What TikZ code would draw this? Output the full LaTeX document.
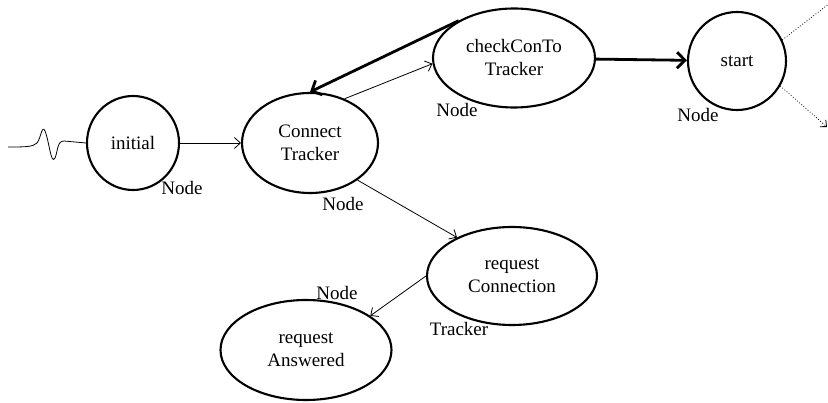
\documentclass[tikz,border=0pt]{standalone}
\usepackage{fontspec}
\setmainfont{Liberation Serif}
\usetikzlibrary{shapes.geometric}
\usetikzlibrary{arrows.meta}
\tikzset{
	state/.style = {ellipse, draw=black, line width=2.1pt, align=center,
		inner sep=0pt, font=\fontsize{19}{23}\selectfont},% etat
	tag/.style = {inner sep=0pt, font=\fontsize{19}{23}\selectfont},% etiquette
	thin_arr/.style = {-{Straight Barb[length=6pt,width=11pt]}, line width=0.8pt},
	thick_arr/.style = {-{Straight Barb[length=8pt,width=16pt]}, line width=2.8pt},
	dot_arr/.style = {dotted, line width=0.8pt}
}
\begin{document}
\begin{tikzpicture}[x=1pt,y=-1pt]
	\useasboundingbox (0,0) rectangle (828,403);
	% etats
	\node [state, minimum width=92pt, minimum height=94pt] (initial) at (133,143) {initial};
	\node [state, minimum width=136pt, minimum height=100pt] (connect) at (310,143) {Connect\\Tracker};
	\node [state, minimum width=162pt, minimum height=99pt] (check) at (514,58) {checkConTo\\Tracker};
	\node [state, minimum width=98pt, minimum height=98pt] (start) at (737,61) {start};
	\node [state, minimum width=170pt, minimum height=98pt] (reqcon) at (512,276) {request\\Connection};
	\node [state, minimum width=171pt, minimum height=100pt] (reqans) at (306,350) {request\\Answered};
	% etiquettes
	\node [tag] (n1) at (182,188) {Node};
	\node [tag] (n2) at (343,204) {Node};
	\node [tag] (n3) at (457,110) {Node};
	\node [tag] (n4) at (698,115) {Node};
	\node [tag] (n5) at (337,293) {Node};
	\node [tag] (t1) at (459,329) {Tracker};
	% entree
	\coordinate (in) at (8,147);
	\draw [line width=0.8pt] (in) .. controls (25,147) and (33,147) .. (37,143)
		.. controls (41,138) and (42,124) .. (45,131)
		.. controls (49,140) and (51,166) .. (55,158)
		.. controls (58,151) and (57,141) .. (64,141) -- (initial.west);
	% transitions
	\draw [thin_arr] (initial) -- (connect);
	\draw [thin_arr] (connect.52) -- (check.184);
	\draw [thick_arr] (check.146) -- (connect.90);
	\draw [thick_arr] (check) -- (start);
	\draw [thin_arr] (connect.-38) -- (reqcon.145);
	\draw [thin_arr] (reqcon.180) -- (reqans.28);
	% sorties
	\coordinate (out1) at (830,3);
	\coordinate (out2) at (827,127);
	\draw [dot_arr] (start.25) -- (out1);
	\draw [dot_arr, -{Straight Barb[length=5pt,width=9pt]}] (start.-30) -- (out2);
\end{tikzpicture}
\end{document}
